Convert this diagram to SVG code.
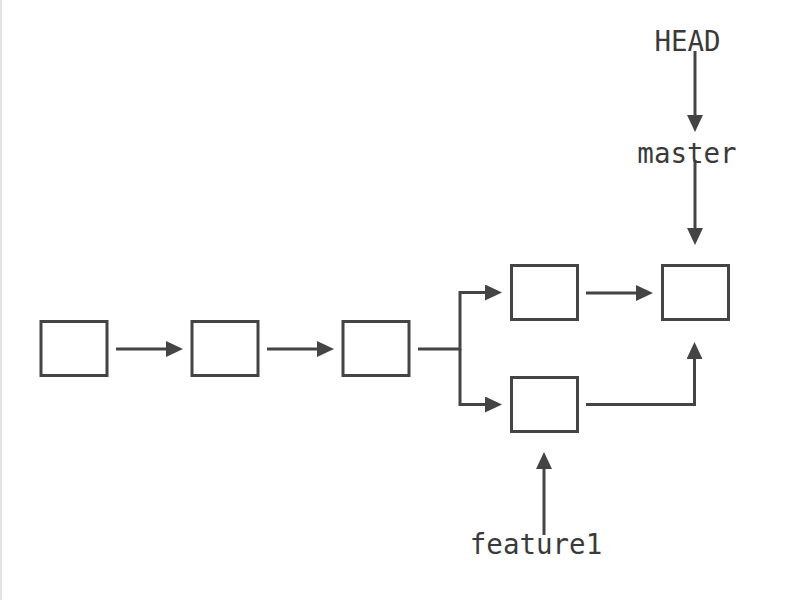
<svg xmlns="http://www.w3.org/2000/svg" width="788" height="600" viewBox="0 0 788 600">
  <defs>
    <style>
      .commit { fill: #ffffff; stroke: #444444; stroke-width: 3; }
      .edge { fill: none; stroke: #444444; stroke-width: 3; marker-end: url(#arrow); }
      .label { font-family: "DejaVu Sans Mono", "Liberation Mono", monospace; font-size: 27.5px; fill: #3a3a3a; text-anchor: middle; }
    </style>
    <marker id="arrow" viewBox="0 0 17 16" refX="0" refY="8" markerWidth="17" markerHeight="16" markerUnits="userSpaceOnUse" orient="auto">
      <path d="M0,0 L17,8 L0,16 z" fill="#444444"/>
    </marker>
  </defs>
  <rect x="0" y="0" width="788" height="600" fill="#ffffff"/>
  <rect x="0" y="0" width="2" height="600" fill="#e3e3e3"/>

  <g id="connectors">
    <path class="edge" d="M116,349 H166"/>
    <path class="edge" d="M267,349 H317"/>
    <path class="edge" d="M418,349 H460 V292.5 H485"/>
    <path class="edge" d="M460,349 V404.5 H485"/>
    <path class="edge" d="M586,293 H636"/>
    <path class="edge" d="M586,404.5 H694.5 V359"/>
    <path class="edge" d="M695,51 V115"/>
    <path class="edge" d="M695,160 V228"/>
    <path class="edge" d="M544,535 V469"/>
  </g>

  <g id="commit1"><rect class="commit" x="41" y="321.5" width="66" height="54"/></g>
  <g id="commit2"><rect class="commit" x="192" y="321.5" width="66" height="54"/></g>
  <g id="commit3"><rect class="commit" x="343" y="321.5" width="66" height="54"/></g>
  <g id="commit4"><rect class="commit" x="511.5" y="265.5" width="66" height="54"/></g>
  <g id="commit5"><rect class="commit" x="511.5" y="377.5" width="66" height="54"/></g>
  <g id="commit6"><rect class="commit" x="662.5" y="265.5" width="66" height="54"/></g>

  <g id="head"><text class="label" x="687.5" y="51">HEAD</text></g>
  <g id="master"><text class="label" x="687" y="163">master</text></g>
  <g id="feature1"><text class="label" x="536" y="554">feature1</text></g>
</svg>
